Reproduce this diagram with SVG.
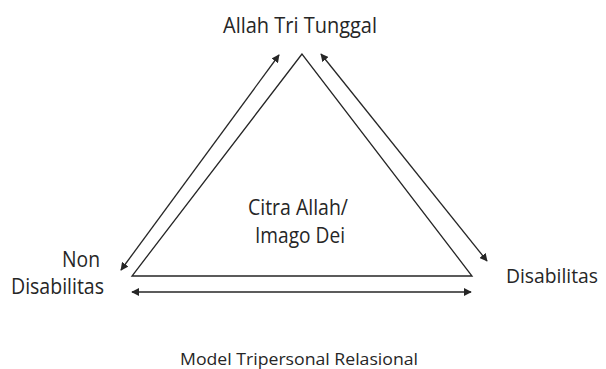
<svg xmlns="http://www.w3.org/2000/svg" width="606" height="369" viewBox="0 0 606 369">
<style>
text{font-family:"Open Sans","Noto Sans","Liberation Sans",sans-serif;fill:#262626;font-size:22px}
.small{font-size:17px}
.ln{stroke:#262626;stroke-width:1.3;fill:none}
.ar{marker-start:url(#ah);marker-end:url(#ah)}
</style>
<defs>
<marker id="ah" viewBox="0 0 10 10" refX="9" refY="5" markerWidth="8" markerHeight="8" markerUnits="userSpaceOnUse" orient="auto-start-reverse">
<path d="M0,0 L10,5 L0,10 z" fill="#262626"/>
</marker>
</defs>
<rect width="606" height="369" fill="#fff"/>
<g id="triangle">
<polygon class="ln" points="302,54 132,276 472,276"/>
<text x="298" y="215" text-anchor="middle" textLength="100" lengthAdjust="spacingAndGlyphs">Citra Allah/</text>
<text x="300" y="243" text-anchor="middle" textLength="90" lengthAdjust="spacingAndGlyphs">Imago Dei</text>
</g>
<g id="allah">
<text x="300" y="32.5" text-anchor="middle" textLength="154" lengthAdjust="spacingAndGlyphs">Allah Tri Tunggal</text>
</g>
<g id="nondisabilitas">
<text x="100" y="267" text-anchor="end" textLength="38" lengthAdjust="spacingAndGlyphs">Non</text>
<text x="104" y="294" text-anchor="end" textLength="93" lengthAdjust="spacingAndGlyphs">Disabilitas</text>
</g>
<g id="disabilitas">
<text x="506" y="283" style="font-size:20px" textLength="92" lengthAdjust="spacingAndGlyphs">Disabilitas</text>
</g>
<g id="connectors">
<line class="ln ar" x1="279" y1="55" x2="121" y2="270"/>
<line class="ln ar" x1="321" y1="54" x2="487" y2="261"/>
<line class="ln ar" x1="132" y1="292" x2="471" y2="292"/>
</g>
<g id="caption">
<text class="small" x="299" y="365" text-anchor="middle" textLength="238" lengthAdjust="spacingAndGlyphs">Model Tripersonal Relasional</text>
</g>
</svg>
